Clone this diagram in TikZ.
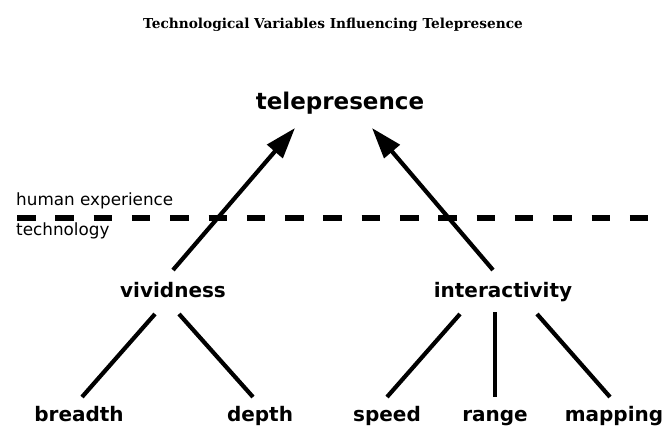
\documentclass[tikz,border=0pt]{standalone}
\usepackage{fontspec}
\setmainfont{DejaVu Sans}
\newfontfamily\titlefont{DejaVu Serif}
\usetikzlibrary{arrows.meta,calc}

\tikzset{
  varname/.style={font=\fontsize{20}{24}\selectfont\bfseries, inner sep=0pt, anchor=base},
  layer/.style={font=\fontsize{16.8}{19}\selectfont, inner sep=0pt, anchor=base west},
  link/.style={line width=4.2pt},
  lift/.style={line width=4.2pt, -{Triangle[length=31pt, width=20pt]}},
  border/.style={line width=6pt, dash pattern=on 18.5pt off 19.8pt}
}

\begin{document}
\begin{tikzpicture}[x=1pt, y=-1pt]
  \useasboundingbox (0,0) rectangle (666,426);
  % title
  \node[font=\titlefont\fontsize{13.7}{16}\selectfont\bfseries, inner sep=0pt, anchor=base] (title) at (333,28)
    {Technological Variables Influencing Telepresence};
  % top concept
  \node[varname, font=\fontsize{23}{27}\selectfont\bfseries] (tele) at (340,109) {telepresence};
  % layers
  \node[layer] (human) at (16,205) {human experience};
  \node[layer] (techno) at (16,235) {technology};
  \coordinate (bordL) at (17,218);
  \coordinate (bordR) at (650,218);
  \draw[border] (bordL) -- (bordR);
  % middle variables
  \node[varname] (viv) at (173,297) {vividness};
  \node[varname] (inter) at (503,297) {interactivity};
  % bottom variables
  \node[varname] (breadth) at (79,421) {breadth};
  \node[varname] (depth) at (260,421) {depth};
  \node[varname] (speed) at (387,421) {speed};
  \node[varname] (range) at (495,421) {range};
  \node[varname] (mapping) at (614,421) {mapping};
  % arrow ends
  \coordinate (vivUp) at (173,270);
  \coordinate (teleL) at (295,128);
  \coordinate (interUp) at (493,270);
  \coordinate (teleR) at (372,128);
  \draw[lift] (vivUp) -- (teleL);
  \draw[lift] (interUp) -- (teleR);
  % tree lines
  \coordinate (vivL) at (155,314);  \coordinate (breadthT) at (82,397);
  \coordinate (vivR) at (179,314);  \coordinate (depthT) at (253,397);
  \coordinate (interL) at (460,314); \coordinate (speedT) at (387,397);
  \coordinate (interM) at (495,312); \coordinate (rangeT) at (495,397);
  \coordinate (interR) at (537,314); \coordinate (mappingT) at (610,397);
  \draw[link] (vivL) -- (breadthT);
  \draw[link] (vivR) -- (depthT);
  \draw[link] (interL) -- (speedT);
  \draw[link] (interM) -- (rangeT);
  \draw[link] (interR) -- (mappingT);
\end{tikzpicture}
\end{document}
